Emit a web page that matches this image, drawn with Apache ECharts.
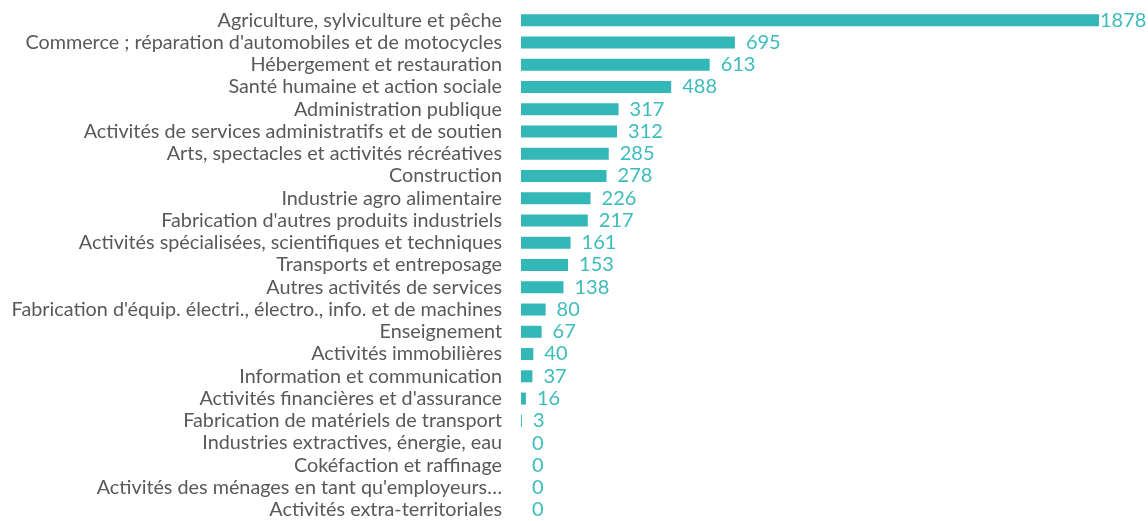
<!DOCTYPE html>
<html>
<head>
<meta charset="utf-8">
<script src="https://cdn.jsdelivr.net/npm/echarts@6/dist/echarts.min.js"></script>
<style>
  html, body { margin: 0; padding: 0; background: #fff; }
  #chart { width: 1148px; height: 521px; }
</style>
</head>
<body>
<div id="chart"></div>
<script>
// Secteurs d'activité, du plus grand au plus petit
const categories = [
  'Agriculture, sylviculture et pêche',
  "Commerce ; réparation d'automobiles et de motocycles",
  'Hébergement et restauration',
  'Santé humaine et action sociale',
  'Administration publique',
  'Activités de services administratifs et de soutien',
  'Arts, spectacles et activités récréatives',
  'Construction',
  'Industrie agro alimentaire',
  "Fabrication d'autres produits industriels",
  'Activités spécialisées, scientifiques et techniques',
  'Transports et entreposage',
  'Autres activités de services',
  "Fabrication d'équip. électri., électro., info. et de machines",
  'Enseignement',
  'Activités immobilières',
  'Information et communication',
  "Activités financières et d'assurance",
  'Fabrication de matériels de transport',
  'Industries extractives, énergie, eau',
  'Cokéfaction et raffinage',
  "Activités des ménages en tant qu'employeurs…",
  'Activités extra-territoriales'
]
const values = [1878, 695, 613, 488, 317, 312, 285, 278, 226, 217, 161, 153, 138, 80, 67, 40, 37, 16, 3, 0, 0, 0, 0]

const barColor = '#33b7b7'
const labelColor = '#3dbcbc'
const textColor = '#595959'
const font = 'Lato, "Open Sans", sans-serif'

const maxVal = Math.max(...values)

const chart = echarts.init(document.getElementById('chart'), null, { renderer: 'canvas' })
chart.setOption({
  animation: false,
  backgroundColor: '#ffffff',
  grid: { left: 521, right: 49, top: 9, height: 516, containLabel: false },
  xAxis: {
    type: 'value', min: 0, max: maxVal,
    show: false
  },
  yAxis: {
    type: 'category', data: categories, inverse: true,
    axisLine: { show: false }, axisTick: { show: false }, splitLine: { show: false },
    axisLabel: { interval: 0, color: textColor, fontSize: 19.8, fontFamily: font, margin: 19 }
  },
  series: [{
    type: 'bar',
    // the biggest bar's label sits right against the bar end (no room on the right)
    data: values.map(v => v === maxVal ? { value: v, label: { distance: 1 } } : v),
    barWidth: 12,
    itemStyle: { color: barColor },
    label: {
      show: true, position: 'right', distance: 11,
      color: labelColor, fontSize: 20, fontFamily: font
    }
  }]
})
</script>
</body>
</html>
